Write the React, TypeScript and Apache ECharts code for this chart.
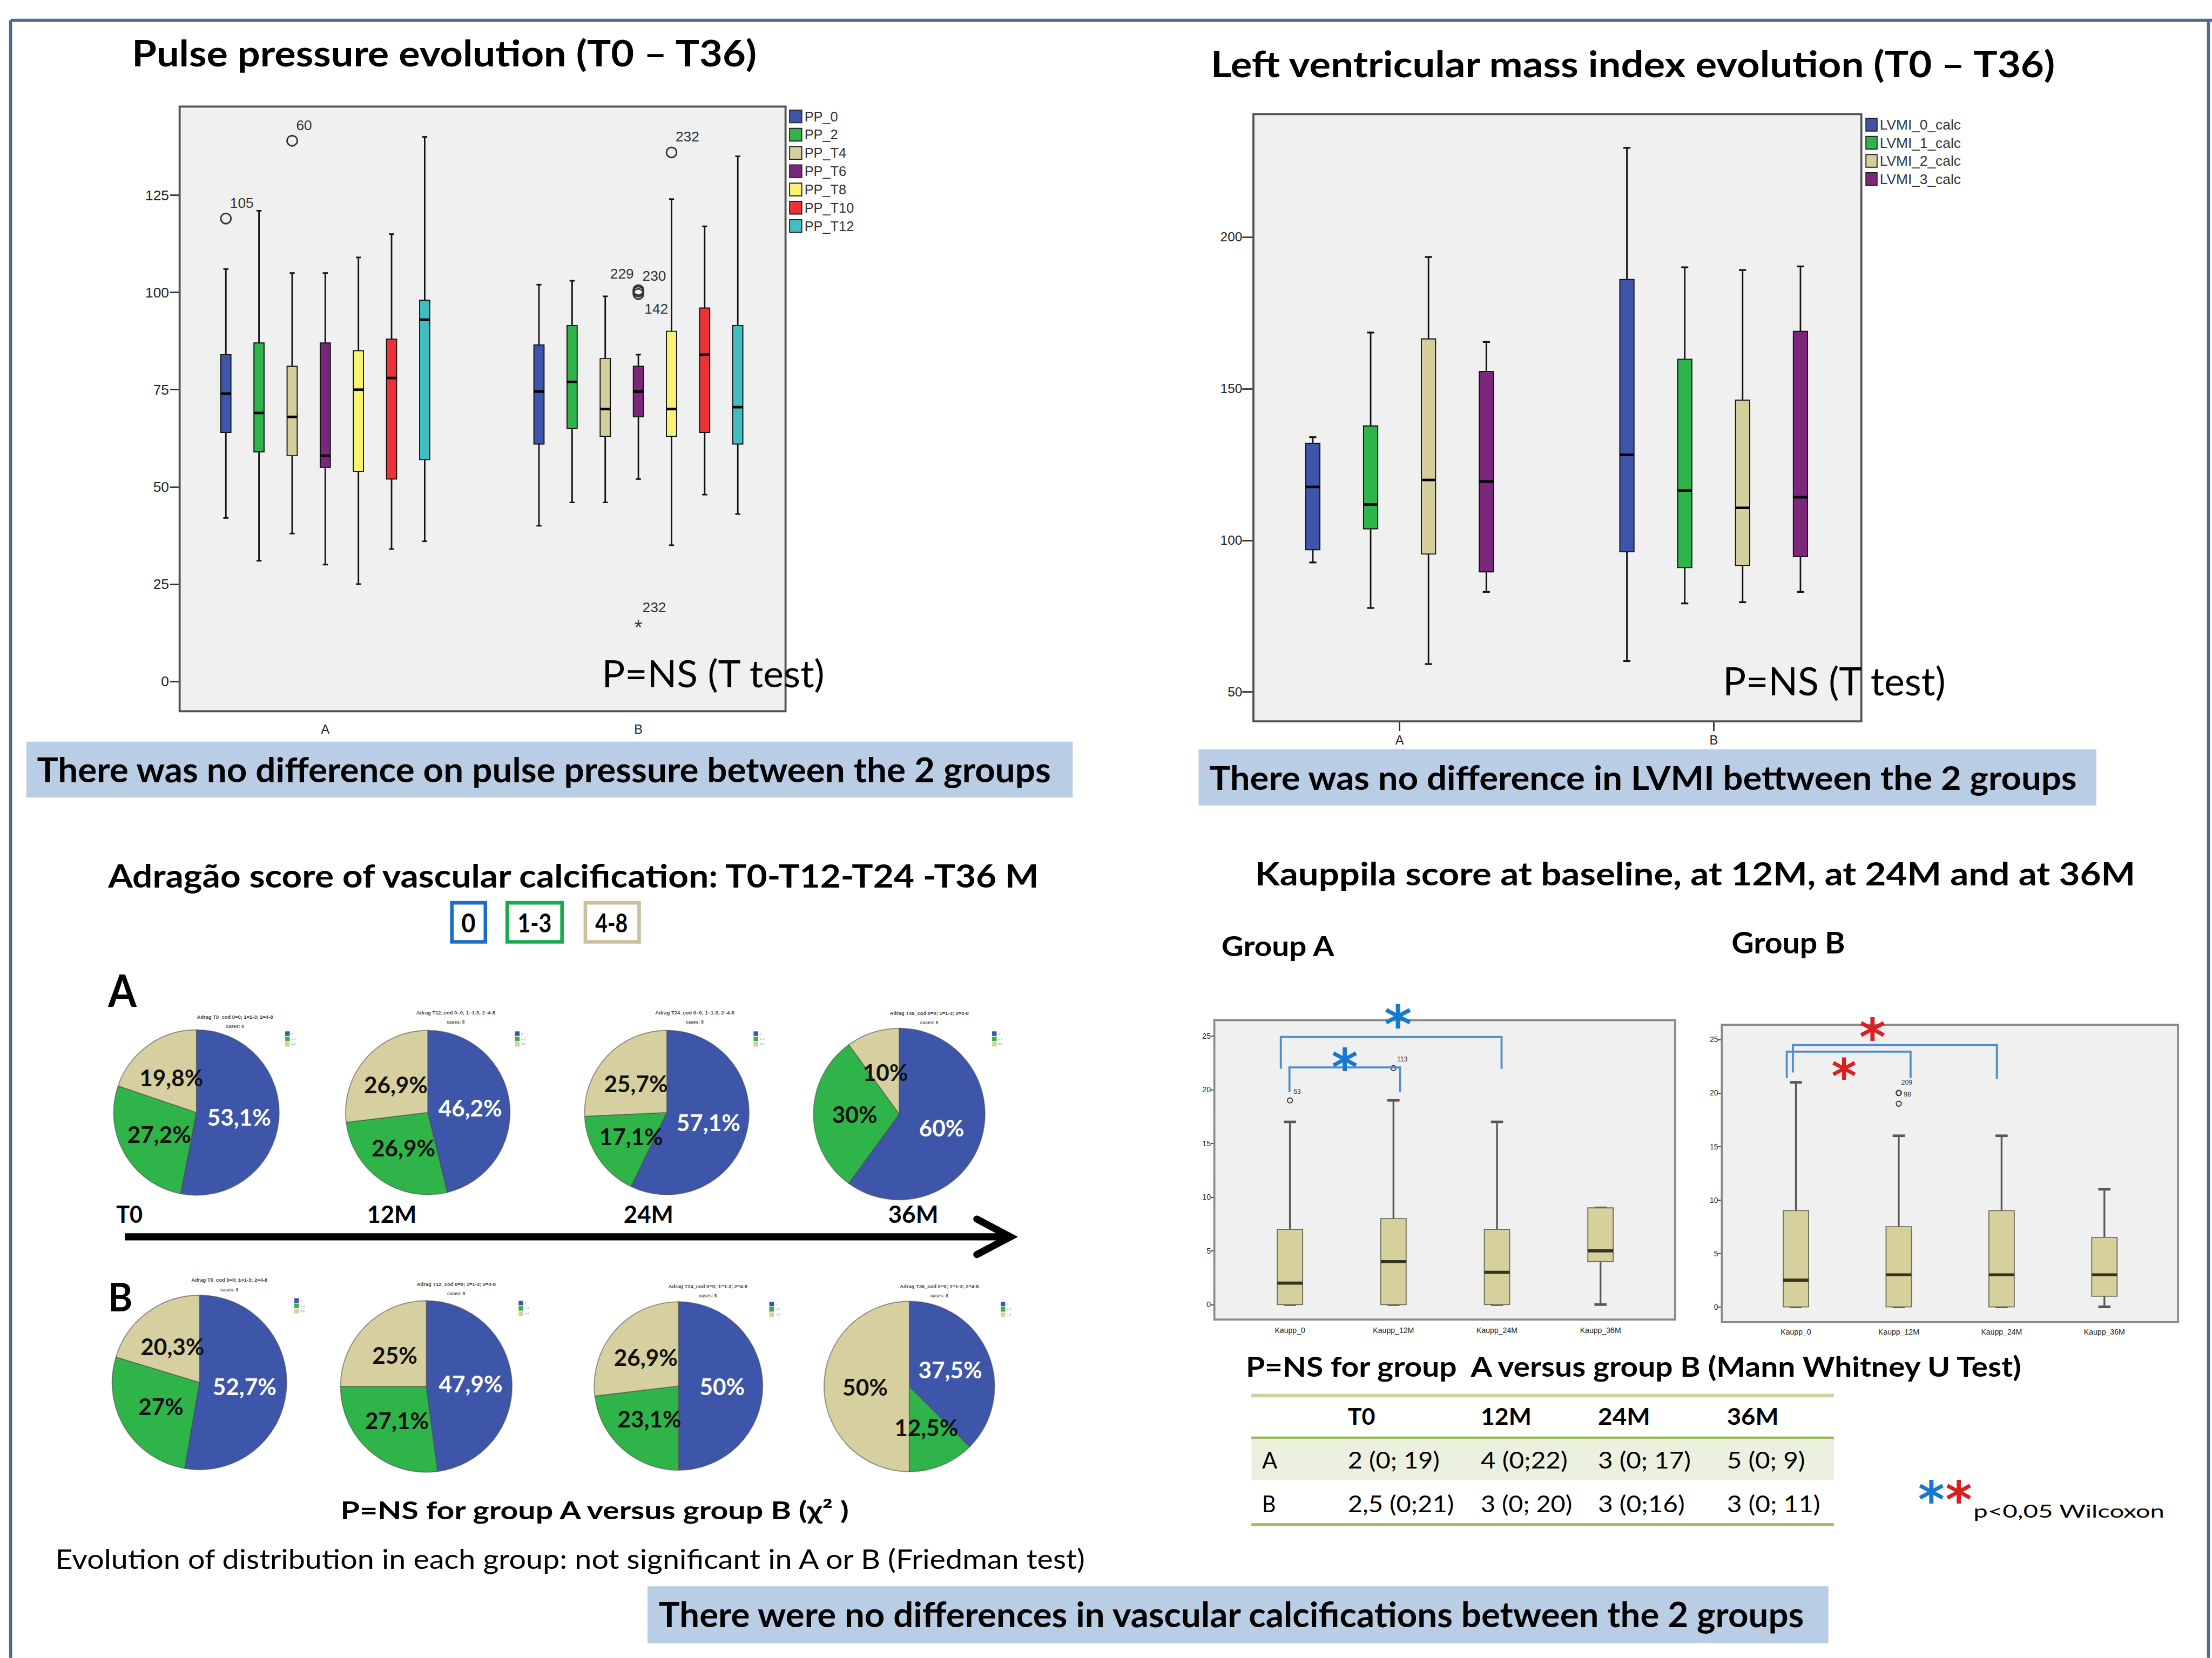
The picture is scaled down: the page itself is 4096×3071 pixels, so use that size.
import React, { useEffect, useRef } from 'react';
import * as echarts from 'echarts';

const W = 4096;
const H = 3071;
const K = W / 4359;
const s = (v: number) => v * K;

// ================= DATA =================
// Pulse pressure boxplots: [min, Q1, median, Q3, max]
const ppGroups = ['A', 'B'];
const ppSeries = ['PP_0', 'PP_2', 'PP_T4', 'PP_T6', 'PP_T8', 'PP_T10', 'PP_T12'];
const ppGroupA = [
  [42, 64, 74, 84, 106],
  [31, 59, 69, 87, 121],
  [38, 58, 68, 81, 105],
  [30, 55, 58, 87, 105],
  [25, 54, 75, 85, 109],
  [34, 52, 78, 88, 115],
  [36, 57, 93, 98, 140],
];
const ppGroupB = [
  [40, 61, 74.5, 86.5, 102],
  [46, 65, 77, 91.5, 103],
  [46, 63, 70, 83, 99],
  [52, 68, 74.5, 81, 84],
  [35, 63, 70, 90, 124],
  [48, 64, 84, 96, 117],
  [43, 61, 70.5, 91.5, 135],
];
const ppTicks = [0, 25, 50, 75, 100, 125];
const ppOutliers = [
  { cat: 0, slot: 0, value: 119, id: '105', mark: 'circle', pos: 'ur' },
  { cat: 0, slot: 2, value: 139, id: '60', mark: 'circle', pos: 'ur' },
  { cat: 1, slot: 3, value: 100.6, id: '229', mark: 'circle', pos: 'ul' },
  { cat: 1, slot: 3, value: 100.2, id: '230', mark: 'circle', pos: 'ur' },
  { cat: 1, slot: 3, value: 99.6, id: '142', mark: 'circle', pos: 'lr' },
  { cat: 1, slot: 3, value: 15, id: '232', mark: 'star', pos: 'ur' },
  { cat: 1, slot: 4, value: 136, id: '232', mark: 'circle', pos: 'ur' },
];

// Left ventricular mass index boxplots
const lvSeries = ['LVMI_0_calc', 'LVMI_1_calc', 'LVMI_2_calc', 'LVMI_3_calc'];
const lvGroupA = [
  [92.7, 96.9, 117.6, 132, 134],
  [77.7, 103.8, 111.8, 137.7, 168.5],
  [59.2, 95.5, 119.9, 166.4, 193.4],
  [83, 89.6, 119.4, 155.7, 165.4],
];
const lvGroupB = [
  [60.2, 96.2, 128.2, 186, 229.4],
  [79.2, 91, 116.4, 159.7, 190],
  [79.6, 91.7, 110.7, 146.2, 189.1],
  [83, 94.6, 114.2, 168.9, 190.3],
];
const lvTicks = [50, 100, 150, 200];

// Kauppila boxplots
const kauppCats = ['Kaupp_0', 'Kaupp_12M', 'Kaupp_24M', 'Kaupp_36M'];
const kauppA = [
  [0, 0, 2, 7, 17],
  [0, 0, 4, 8, 19],
  [0, 0, 3, 7, 17],
  [0, 4, 5, 9, 9],
];
const kauppB = [
  [0, 0, 2.5, 9, 21],
  [0, 0, 3, 7.5, 16],
  [0, 0, 3, 9, 16],
  [0, 1, 3, 6.5, 11],
];
const kauppTicks = [0, 5, 10, 15, 20, 25];
const kauppOutliersA = [
  { cat: 0, slot: 0, value: 19, id: '53', mark: 'circle', pos: 'ur' },
  { cat: 1, slot: 0, value: 22, id: '113', mark: 'circle', pos: 'ur' },
];
const kauppOutliersB = [
  { cat: 1, slot: 0, value: 20, id: '209', mark: 'circle', pos: 'uu' },
  { cat: 1, slot: 0, value: 20, id: '98', mark: 'circle', pos: 'r' },
  { cat: 1, slot: 0, value: 19, id: '', mark: 'circle', pos: '' },
];

// Adragão pies (% of 0 / 1-3 / 4-8)
const adragCats = ['0', '1-3', '4-8'];
const adragTimes = ['T0', '12M', '24M', '36M'];
const adragCodes = ['T0', 'T12', 'T24', 'T36'];
const adragA = [
  [53.1, 27.2, 19.8],
  [46.2, 26.9, 26.9],
  [57.1, 17.1, 25.7],
  [60, 30, 10],
];
const adragB = [
  [52.7, 27, 20.3],
  [47.9, 27.1, 25],
  [50, 23.1, 26.9],
  [37.5, 12.5, 50],
];

// Kauppila median (min; max) table
const tableHeader = ['T0', '12M', '24M', '36M'];
const tableRowA = ['2 (0; 19)', '4 (0;22)', '3 (0; 17)', '5 (0; 9)'];
const tableRowB = ['2,5 (0;21)', '3 (0; 20)', '3 (0;16)', '3 (0; 11)'];

// ================= STYLE =================
const ppColors = ['#3e56a9', '#2fb44b', '#d5ce9c', '#7a277c', '#f9f36f', '#eb3237', '#40bec2'];
const lvColors = ['#3e56a9', '#2fb44b', '#d5ce9c', '#7a277c'];
const pieColors = ['#3e56a9', '#2fb44a', '#d6cf9f'];
const kauppFill = '#d5d09c';
const frameColor = '#4b6a94';
const bannerColor = '#b9cde5';
const bracketColor = '#4f8bd0';
const starBlue = '#1778d0';
const starRed = '#d91f1f';

let mctx: any = null;
function measure(text: string, font: string) {
  if (!mctx) mctx = document.createElement('canvas').getContext('2d');
  mctx.font = font;
  return mctx.measureText(text).width || 1;
}

// text fitted to a box (reference coordinates)
function T(text: string, x0: number, x1: number, yc: number, cap: number, bold = false, color = '#000', family = 'Lato') {
  const fs = s(cap / 0.72);
  const weight = bold ? 'bold' : 'normal';
  const w = measure(text, `${weight} ${fs}px "${family}"`);
  const sx = s(x1 - x0) / w;
  return {
    type: 'text', x: s(x0), y: s(yc), scaleX: sx, z: 50, silent: true,
    style: { text, fontFamily: family, fontWeight: weight, fontSize: fs, fill: color, textAlign: 'left', textVerticalAlign: 'middle' },
  };
}
function plainText(text: string, x: number, y: number, fs: number, opts: any = {}) {
  return {
    type: 'text', x: s(x), y: s(y), z: 50, silent: true,
    style: {
      text, fontFamily: opts.family || 'Liberation Sans', fontWeight: opts.bold ? 'bold' : 'normal',
      fontSize: s(fs), fill: opts.color || '#333', textAlign: opts.align || 'center', textVerticalAlign: 'middle',
    },
  };
}
function rect(x: number, y: number, w: number, h: number, style: any, z = 1) {
  const st: any = { fill: style.fill || 'none' };
  if (style.stroke) { st.stroke = style.stroke; st.lineWidth = s(style.lw || 1); }
  return { type: 'rect', z, silent: true, shape: { x: s(x), y: s(y), width: s(w), height: s(h) }, style: st };
}
function line(x1: number, y1: number, x2: number, y2: number, color: string, lw: number, z = 2) {
  return { type: 'line', z, silent: true, shape: { x1: s(x1), y1: s(y1), x2: s(x2), y2: s(y2) }, style: { stroke: color, lineWidth: s(lw) } };
}
function poly(pts: number[][], color: string, lw: number, z = 20) {
  return { type: 'polyline', z, silent: true, shape: { points: pts.map((p) => [s(p[0]), s(p[1])]) }, style: { stroke: color, lineWidth: s(lw), fill: 'none' } };
}
function star(x: number, y: number, h: number, color: string) {
  const fs = s(h / 0.42);
  return {
    type: 'text', x: s(x), y: s(y) + fs * 0.2, z: 60, silent: true,
    style: { text: '*', fontFamily: 'DejaVu Sans', fontWeight: 'bold', fontSize: fs, fill: color, textAlign: 'center', textVerticalAlign: 'middle' },
  };
}

function boxRender(offsetPx: number, cfg: any) {
  return (params: any, api: any) => {
    const cat = api.value(0);
    const ys = [1, 2, 3, 4, 5].map((i) => api.coord([cat, api.value(i)])[1]);
    const cx = api.coord([cat, api.value(3)])[0] + offsetPx;
    const [yLow, yQ1, yMed, yQ3, yHigh] = ys;
    const hw = cfg.boxW / 2;
    const cw = cfg.capW / 2;
    const wh = { stroke: cfg.whiskerColor, lineWidth: cfg.whiskerW };
    const cap = { stroke: cfg.whiskerColor, lineWidth: cfg.capLW };
    return {
      type: 'group',
      children: [
        { type: 'line', shape: { x1: cx, y1: yHigh, x2: cx, y2: yQ3 }, style: wh },
        { type: 'line', shape: { x1: cx, y1: yQ1, x2: cx, y2: yLow }, style: wh },
        { type: 'line', shape: { x1: cx - cw, y1: yHigh, x2: cx + cw, y2: yHigh }, style: cap },
        { type: 'line', shape: { x1: cx - cw, y1: yLow, x2: cx + cw, y2: yLow }, style: cap },
        { type: 'rect', shape: { x: cx - hw, y: yQ3, width: cfg.boxW, height: Math.max(yQ1 - yQ3, 0.5) }, style: { fill: api.visual('color'), stroke: cfg.boxStroke, lineWidth: cfg.boxLW } },
        { type: 'line', shape: { x1: cx - hw, y1: yMed, x2: cx + hw, y2: yMed }, style: { stroke: cfg.medColor, lineWidth: cfg.medW } },
      ],
    };
  };
}

function outlierRender(list: any[], offsetOf: (slot: number) => number, cfg: any) {
  return (params: any, api: any) => {
    const o = list[params.dataIndex];
    const pt = api.coord([api.value(0), api.value(1)]);
    const x = pt[0] + offsetOf(o.slot);
    const y = pt[1];
    const children: any[] = [];
    if (o.mark === 'star') {
      children.push({ type: 'text', x, y: y + cfg.starDy, style: { text: '*', fontSize: cfg.starFs, fontFamily: 'Liberation Sans', fill: '#333', textAlign: 'center', textVerticalAlign: 'middle' } });
    } else {
      children.push({ type: 'circle', shape: { cx: x, cy: y, r: cfg.r }, style: { fill: 'none', stroke: '#333', lineWidth: cfg.lw } });
    }
    if (o.id) {
      const p = cfg.pos[o.pos];
      children.push({ type: 'text', x: x + p[0], y: y + p[1], style: { text: o.id, fontSize: cfg.fs, fontFamily: 'Liberation Sans', fill: '#333', textAlign: p[2], textVerticalAlign: 'middle' } });
    }
    return { type: 'group', children };
  };
}

function catAxis(gridIndex: number, data: string[], o: any) {
  return {
    type: 'category', gridIndex, data, boundaryGap: true,
    axisLine: { show: false }, splitLine: { show: false },
    axisTick: { show: true, alignWithLabel: true, length: s(o.tick), lineStyle: { color: '#333', width: s(o.tw) } },
    axisLabel: { show: true, interval: 0, fontSize: s(o.fs), fontFamily: 'Liberation Sans', color: '#222', margin: s(o.margin) },
  };
}
function valAxis(gridIndex: number, min: number, max: number, ticks: number[], offset: number, o: any) {
  return {
    type: 'value', gridIndex, min, max, offset: s(offset),
    axisLine: { show: false }, splitLine: { show: false },
    axisTick: { show: true, length: s(o.tick), customValues: ticks, lineStyle: { color: '#333', width: s(o.tw) } },
    axisLabel: { show: true, customValues: ticks, fontSize: s(o.fs), fontFamily: 'Liberation Sans', color: '#222', margin: s(o.margin) },
  };
}

function buildOption() {
  const grid = [
    { left: s(332.5), top: s(210), width: s(1234), height: s(1192) },
    { left: s(2448.5), top: s(225), width: s(1238), height: s(1197) },
    { left: s(2440), top: s(2011), width: s(816), height: s(590) },
    { left: s(3437.7), top: s(2020), width: s(810.6), height: s(586) },
  ].map((g) => ({ ...g, show: false, containLabel: false, outerBoundsMode: 'none' }));

  const xAxis = [
    catAxis(0, ppGroups, { tick: 19, tw: 3, fs: 25, margin: 24 }),
    catAxis(1, ppGroups, { tick: 19, tw: 3, fs: 25, margin: 25 }),
    catAxis(2, kauppCats, { tick: 11, tw: 2.5, fs: 15, margin: 14 }),
    catAxis(3, kauppCats, { tick: 11, tw: 2.5, fs: 15, margin: 12 }),
  ];
  const yAxis = [
    valAxis(0, -7.7, 147.8, ppTicks, 332.5 - 354, { tick: 19, tw: 3, fs: 28, margin: 21 }),
    valAxis(1, 40.3, 240.5, lvTicks, 2448.5 - 2470, { tick: 22, tw: 3, fs: 26, margin: 22 }),
    valAxis(2, -1.39, 26.46, kauppTicks, 2440 - 2393, { tick: 7, tw: 2, fs: 15, margin: 7 }),
    valAxis(3, -1.42, 26.38, kauppTicks, 3437.7 - 3393, { tick: 7, tw: 2, fs: 15, margin: 7 }),
  ];

  const ppBox = { boxW: s(20), capW: s(10), whiskerW: s(3), capLW: s(3), whiskerColor: '#111', boxStroke: '#111', boxLW: s(2), medW: s(5), medColor: '#000' };
  const lvBox = { boxW: s(28), capW: s(14), whiskerW: s(3), capLW: s(3.5), whiskerColor: '#111', boxStroke: '#111', boxLW: s(2), medW: s(5), medColor: '#000' };
  const kBox = { boxW: s(50), capW: s(24), whiskerW: s(3.5), capLW: s(5), whiskerColor: '#555', boxStroke: '#6f6f5c', boxLW: s(2), medW: s(6), medColor: '#33331f' };

  const series: any[] = [];
  ppSeries.forEach((name, i) => {
    series.push({
      type: 'custom', name, xAxisIndex: 0, yAxisIndex: 0, z: 5, silent: true,
      itemStyle: { color: ppColors[i] },
      encode: { x: 0, y: [1, 2, 3, 4, 5] },
      data: [[0, ...ppGroupA[i]], [1, ...ppGroupB[i]]],
      renderItem: boxRender(s((i - 3) * 65.3), ppBox),
    });
  });
  series.push({
    type: 'custom', name: 'pp-outliers', xAxisIndex: 0, yAxisIndex: 0, z: 6, silent: true,
    encode: { x: 0, y: 1 },
    data: ppOutliers.map((o) => [o.cat, o.value]),
    renderItem: outlierRender(ppOutliers, (slot) => s((slot - 3) * 65.3), {
      r: s(10), lw: s(3), fs: s(28), starFs: s(40), starDy: s(9),
      pos: { ur: [s(8), s(-31), 'left'], ul: [s(-9), s(-32), 'right'], lr: [s(12), s(29), 'left'] },
    }),
  });
  lvSeries.forEach((name, i) => {
    series.push({
      type: 'custom', name, xAxisIndex: 1, yAxisIndex: 1, z: 5, silent: true,
      itemStyle: { color: lvColors[i] },
      encode: { x: 0, y: [1, 2, 3, 4, 5] },
      data: [[0, ...lvGroupA[i]], [1, ...lvGroupB[i]]],
      renderItem: boxRender(s((i - 1.5) * 114), lvBox),
    });
  });
  [[kauppA, kauppOutliersA, 2], [kauppB, kauppOutliersB, 3]].forEach(([vals, outs, idx]: any) => {
    series.push({
      type: 'custom', name: 'Kauppila ' + (idx === 2 ? 'A' : 'B'), xAxisIndex: idx, yAxisIndex: idx, z: 5, silent: true,
      itemStyle: { color: kauppFill },
      encode: { x: 0, y: [1, 2, 3, 4, 5] },
      data: vals.map((v: number[], c: number) => [c, ...v]),
      renderItem: boxRender(0, kBox),
    });
    series.push({
      type: 'custom', name: 'Kauppila outliers ' + idx, xAxisIndex: idx, yAxisIndex: idx, z: 6, silent: true,
      encode: { x: 0, y: 1 },
      data: outs.map((o: any) => [o.cat, o.value]),
      renderItem: outlierRender(outs, () => 0, {
        r: s(5), lw: s(2), fs: s(13), starFs: s(20), starDy: 0,
        pos: { ur: [s(7), s(-17), 'left'], uu: [s(5), s(-21), 'left'], r: [s(10), s(3), 'left'] },
      }),
    });
  });

  // pies
  const pieA = [[387, 2193, 163], [843, 2193, 162], [1314, 2193, 162], [1772, 2196, 169]];
  const pieB = [[393, 2725, 172], [840, 2733, 169], [1337, 2732, 166], [1792, 2733, 168]];
  const pie = (vals: number[], pos: number[], name: string) => ({
    type: 'pie', name, center: [s(pos[0]), s(pos[1])], radius: s(pos[2]), startAngle: 90, clockwise: true,
    silent: true, avoidLabelOverlap: false, z: 5,
    label: {
      show: true, position: 'inside', formatter: (p: any) => String(p.value).replace('.', ',') + '%',
      fontFamily: 'Lato', fontWeight: 'bold', fontSize: s(45), color: '#111',
    },
    labelLine: { show: false },
    emphasis: { disabled: true },
    itemStyle: { borderColor: 'rgba(70,70,70,0.55)', borderWidth: s(2) },
    data: vals.map((v, i) => ({ value: v, name: adragCats[i], itemStyle: { color: pieColors[i] }, label: i === 0 ? { color: '#fff' } : {} })),
  });
  adragA.forEach((v, i) => series.push(pie(v, pieA[i], 'Adragão A ' + adragTimes[i])));
  adragB.forEach((v, i) => series.push(pie(v, pieB[i], 'Adragão B ' + adragTimes[i])));

  const legendBase = {
    orient: 'vertical', icon: 'rect', padding: 0, selectedMode: false,
    itemStyle: { borderColor: '#222', borderWidth: s(2) },
  };
  const legend = [
    { ...legendBase, data: ppSeries, left: s(1555), top: s(216), itemWidth: s(24), itemHeight: s(25), itemGap: s(9),
      textStyle: { fontFamily: 'Liberation Sans', fontSize: s(27), color: '#333' } },
    { ...legendBase, data: lvSeries, left: s(3676), top: s(232), itemWidth: s(22), itemHeight: s(25), itemGap: s(8),
      textStyle: { fontFamily: 'Liberation Sans', fontSize: s(28), color: '#333' } },
  ];

  // ---------- graphic ----------
  const g: any[] = [];
  // frame
  g.push(line(21, 40, 4359, 40, frameColor, 6, 3));
  g.push(line(21, 40, 21, 3268, frameColor, 6, 3));
  g.push(line(4352, 40, 4352, 3268, frameColor, 6, 3));
  // plot areas
  g.push(rect(354, 210, 1194, 1192, { fill: '#f0f0f0', stroke: '#505050', lw: 4 }));
  g.push(rect(2470, 225, 1198, 1197, { fill: '#f0f0f0', stroke: '#505050', lw: 4 }));
  g.push(rect(2393, 2011, 908, 590, { fill: '#f0f0f0', stroke: '#8a8a8a', lw: 4 }));
  g.push(rect(3393, 2020, 899, 586, { fill: '#f0f0f0', stroke: '#8a8a8a', lw: 4 }));
  // banners
  g.push(rect(52, 1462, 2062, 110, { fill: bannerColor }));
  g.push(rect(2362, 1477, 1769, 111, { fill: bannerColor }));
  g.push(rect(1276, 3127, 2327, 112, { fill: bannerColor }));
  // Adragão legend boxes
  g.push(rect(890.5, 1779.5, 66, 77, { fill: '#fff', stroke: '#1a6fc4', lw: 7 }, 3));
  g.push(rect(999.5, 1779.5, 108, 77, { fill: '#fff', stroke: '#17ab4b', lw: 7 }, 3));
  g.push(rect(1153.5, 1779.5, 106, 77, { fill: '#fff', stroke: '#c8c19b', lw: 7 }, 3));
  // timeline arrow
  g.push(line(246, 2438, 1985, 2438, '#000', 14, 3));
  g.push({ ...poly([[1925, 2403], [1991, 2438], [1925, 2473]], '#000', 14, 3), style: { stroke: '#000', lineWidth: s(14), fill: 'none', lineJoin: 'miter', lineCap: 'round' } });
  // tiny SPSS pie titles and legends
  const miniA = [[463, 2004, 562, 2033], [898, 1996, 1015, 2033], [1369, 1996, 1485, 2033], [1831, 1997, 1955, 2033]];
  const miniB = [[452, 2523, 580, 2559], [899, 2531, 1022, 2564], [1395, 2535, 1516, 2566], [1851, 2535, 1972, 2566]];
  [miniA, miniB].forEach((arr) => arr.forEach((m, i) => {
    g.push(plainText(`Adrag ${adragCodes[i]}_cod 0=0; 1=1-3; 2=4-8`, m[0], m[1], 10, { bold: true, color: '#444' }));
    g.push(plainText('cases: 8', m[0], m[1] + 19, 9, { bold: true, color: '#555' }));
    pieColors.forEach((c, k) => {
      g.push(rect(m[2], m[3] + k * 10.5, 9, 9, { fill: c }, 3));
      g.push(plainText(adragCats[k], m[2] + 12, m[3] + k * 10.5 + 4.5, 6, { color: '#999', align: 'left' }));
    });
  }));
  // significance brackets
  g.push(poly([[2524, 2107], [2524, 2044], [2959, 2044], [2959, 2107]], bracketColor, 4));
  g.push(poly([[2541, 2153], [2541, 2104], [2759, 2104], [2759, 2153]], bracketColor, 4));
  g.push(poly([[3533, 2114], [3533, 2060], [3935, 2060], [3935, 2127]], bracketColor, 4));
  g.push(poly([[3521, 2125], [3521, 2073], [3765, 2073], [3765, 2125]], bracketColor, 4));
  g.push(star(2755, 1999, 44, starBlue));
  g.push(star(2650, 2084, 42, starBlue));
  g.push(star(3690, 2025, 42, starRed));
  g.push(star(3634, 2103, 40, starRed));
  g.push(star(3806, 2937, 42, starBlue));
  g.push(star(3860, 2937, 42, starRed));
  // table
  g.push(rect(2466, 2837, 1148, 80, { fill: '#ebf1de' }));
  g.push(line(2466, 2751, 3614, 2751, '#c3d69b', 7));
  g.push(line(2466, 2834, 3614, 2834, '#9bbb59', 5));
  g.push(line(2466, 3005, 3614, 3005, '#9bbb59', 5));
  const colL = [2656, 2918, 3149, 3403];
  const headR = [2710, 3018, 3252, 3505];
  const rowAR = [2837, 3089, 3332, 3557];
  const rowBR = [2865, 3098, 3320, 3587];
  tableHeader.forEach((t, i) => g.push(T(t, colL[i], headR[i], 2791, 32, true)));
  g.push(T('A', 2487, 2517, 2877, 33));
  g.push(T('B', 2487, 2514, 2963, 33));
  tableRowA.forEach((t, i) => g.push(T(t, colL[i], rowAR[i], 2877, 33)));
  tableRowB.forEach((t, i) => g.push(T(t, colL[i], rowBR[i], 2963, 33)));
  // texts
  g.push(T('Pulse pressure evolution (T0 – T36)', 260, 1494, 103, 52, true));
  g.push(T('Left ventricular mass index evolution (T0 – T36)', 2386, 4055, 124, 52, true));
  g.push(T('P=NS (T test)', 1186, 1627, 1326, 53));
  g.push(T('P=NS (T test)', 3395, 3836, 1341, 55));
  g.push(T('There was no difference on pulse pressure between the 2 groups', 73, 2072, 1517, 48, true));
  g.push(T('There was no difference in LVMI bettween the 2 groups', 2383, 4093, 1531, 47, true));
  g.push(T('Adragão score of vascular calcification: T0-T12-T24 -T36 M', 213, 2053, 1725, 46, true));
  g.push(T('0', 909, 937, 1818, 36, true));
  g.push(T('1-3', 1020, 1087, 1818, 36, true));
  g.push(T('4-8', 1173, 1237, 1818, 36, true));
  g.push(T('A', 213, 269, 1951, 63, true));
  g.push(T('B', 213, 261, 2555, 56, true));
  const tl = [[229, 281], [723, 821], [1229, 1327], [1750, 1849]];
  adragTimes.forEach((t, i) => g.push(T(t, tl[i][0], tl[i][1], 2392, 34, true)));
  g.push(T('P=NS for group A versus group B (χ² )', 671, 1679, 2976, 35, true));
  g.push(T('Evolution of distribution in each group: not significant in A or B (Friedman test)', 109, 2144, 3072, 38));
  g.push(T('There were no differences in vascular calcifications between the 2 groups', 1298, 3560, 3181, 50, true));
  g.push(T('Kauppila score at baseline, at 12M, at 24M and at 36M', 2473, 4208, 1721, 45, true));
  g.push(T('Group A', 2407, 2631, 1863, 40, true));
  g.push(T('Group B', 3412, 3636, 1857, 42, true));
  g.push(T('P=NS for group  A versus group B (Mann Whitney U Test)', 2455, 3993, 2692, 40, true));
  g.push(T('p<0,05 Wilcoxon', 3889, 4266, 2978, 25));

  return {
    animation: false,
    backgroundColor: '#ffffff',
    grid, xAxis, yAxis, legend, series,
    graphic: { elements: g },
  };
}

export default function App() {
  const ref = useRef<HTMLDivElement>(null);
  useEffect(() => {
    document.body.style.margin = '0';
    const chart = echarts.init(ref.current as HTMLDivElement, null, { renderer: 'svg', width: W, height: H });
    chart.setOption(buildOption() as any);
    return () => chart.dispose();
  }, []);
  return <div ref={ref} style={{ width: W, height: H, position: 'absolute', left: 0, top: 0, background: '#fff' }} />;
}
